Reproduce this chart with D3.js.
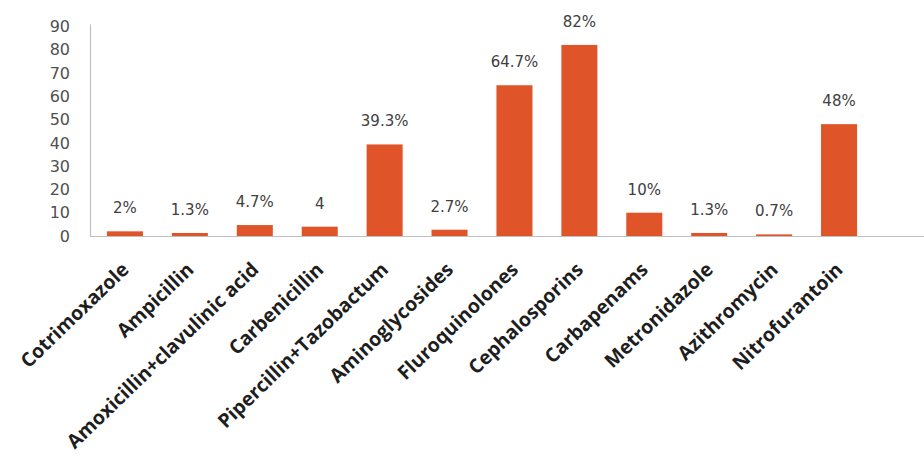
<!DOCTYPE html>
<html>
<head>
<meta charset="utf-8">
<script src="https://cdn.jsdelivr.net/npm/d3@7"></script>
<style>
  html, body { margin: 0; padding: 0; background: #ffffff; }
  svg { display: block; }
</style>
</head>
<body>
<svg id="chart" width="924" height="459"></svg>
<script>
// Antibiotic groups and the resistance percentage shown above each bar
const categories = [
  "Cotrimoxazole", "Ampicillin", "Amoxicillin+clavulinic acid", "Carbenicillin",
  "Pipercillin+Tazobactum", "Aminoglycosides", "Fluroquinolones", "Cephalosporins",
  "Carbapenams", "Metronidazole", "Azithromycin", "Nitrofurantoin"
];
const values = [2, 1.3, 4.7, 4, 39.3, 2.7, 64.7, 82, 10, 1.3, 0.7, 48];
const valueLabels = ["2%", "1.3%", "4.7%", "4", "39.3%", "2.7%", "64.7%", "82%", "10%", "1.3%", "0.7%", "48%"];
const yTicks = [0, 10, 20, 30, 40, 50, 60, 70, 80, 90];

const svg = d3.select("#chart");

const x = d3.scaleBand()
  .domain(categories)
  .range([92.5, 871.5])
  .paddingInner(0.445)
  .paddingOuter(0.2225);

const y = d3.scaleLinear()
  .domain([0, 90])
  .range([236, 26.3]);

const axisColor = "#c0c0c0";
const barColor = "#e05429";

// Value axis labels (no tick marks)
const yAxis = svg.append("g")
  .attr("transform", "translate(70,0)")
  .call(d3.axisLeft(y).tickValues(yTicks).tickSize(0).tickPadding(0));
yAxis.select(".domain").remove();
yAxis.selectAll("text")
  .attr("font-family", "DejaVu Sans, sans-serif")
  .attr("font-size", 16)
  .attr("fill", "#505050")
  .attr("dy", "0.33em");

// Vertical axis line
svg.append("line")
  .attr("x1", 90.5).attr("x2", 90.5)
  .attr("y1", y(90) - 2).attr("y2", y(0))
  .attr("stroke", axisColor).attr("stroke-width", 1.2);

// Bars
svg.append("g")
  .selectAll("rect")
  .data(categories)
  .join("rect")
  .attr("x", d => x(d))
  .attr("width", x.bandwidth())
  .attr("y", (d, i) => y(values[i]))
  .attr("height", (d, i) => y(0) - y(values[i]))
  .attr("fill", barColor);

// Horizontal axis line
svg.append("line")
  .attr("x1", 90).attr("x2", 924)
  .attr("y1", y(0) + 0.5).attr("y2", y(0) + 0.5)
  .attr("stroke", axisColor).attr("stroke-width", 1.2);

// Value labels above bars
svg.append("g")
  .selectAll("text")
  .data(categories)
  .join("text")
  .attr("x", d => x(d) + x.bandwidth() / 2)
  .attr("y", (d, i) => y(values[i]) - 18)
  .attr("text-anchor", "middle")
  .attr("font-family", "DejaVu Sans, sans-serif")
  .attr("font-size", 15)
  .attr("fill", "#404040")
  .text((d, i) => valueLabels[i]);

// Rotated category labels
svg.append("g")
  .selectAll("text")
  .data(categories)
  .join("text")
  .attr("transform", d => `translate(${x(d) + x.bandwidth() / 2 + 5},271) rotate(-44)`)
  .attr("text-anchor", "end")
  .attr("font-family", "Open Sans, sans-serif")
  .attr("font-weight", "bold")
  .attr("font-size", 19.5)
  .attr("fill", "#1e1e1e")
  .text(d => d);
</script>
</body>
</html>
